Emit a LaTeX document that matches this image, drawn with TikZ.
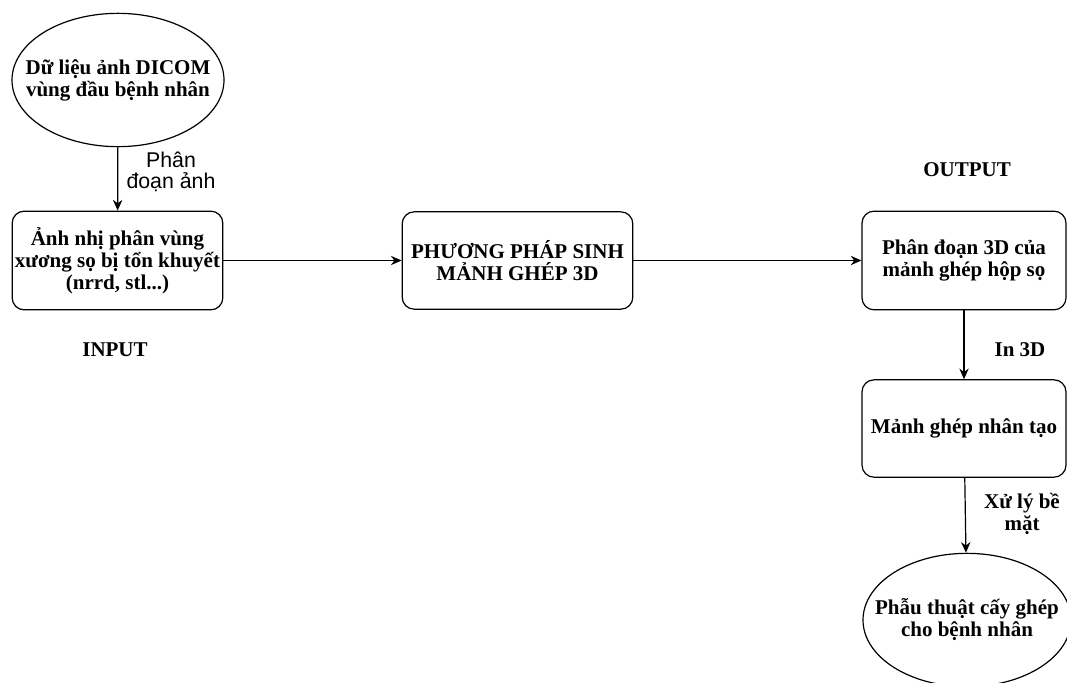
\documentclass[tikz,border=0pt]{standalone}
\usepackage{fontspec}
\setmainfont{Liberation Serif}
\newfontfamily\labelsans{Liberation Sans}
\usetikzlibrary{shapes.geometric,arrows.meta}

\begin{document}
\begin{tikzpicture}[x=0.75pt,y=-0.75pt,>={Stealth[length=8pt,width=7pt]},line width=0.9pt,
  font=\fontsize{15.75}{16.5}\selectfont\bfseries,
  oval/.style={draw,ellipse,align=center,inner sep=-40pt,minimum width=159pt,minimum height=100pt},
  stepbox/.style={draw,rounded corners=9pt,align=center,inner sep=0pt,minimum height=74pt}]
\useasboundingbox (0,0) rectangle (1067,682);

\node[oval] (dicom) at (118,80) {Dữ liệu ảnh DICOM\\vùng đầu bệnh nhân};
\node[stepbox,minimum width=158pt] (input) at (117.5,260.5) {Ảnh nhị phân vùng\\xương sọ bị tổn khuyết\\(nrrd, stl...)};
\node (inputlbl) at (115,350) {INPUT};

\node[stepbox,minimum width=173pt,minimum height=73pt] (method) at (517.5,260.5) {PHƯƠNG PHÁP SINH\\MẢNH GHÉP 3D};

\node[stepbox,minimum width=153pt] (seg3d) at (964,260.5) {Phân đoạn 3D của\\mảnh ghép hộp sọ};
\node (outputlbl) at (967,170) {OUTPUT};
\node[stepbox,minimum width=153pt,minimum height=73pt] (implant) at (964,428.5) {Mảnh ghép nhân tạo};
\node[oval,minimum width=156pt] (surgery) at (967,620) {Phẫu thuật cấy ghép\\cho bệnh nhân};

\draw[->] (dicom) -- (input);
\node[font=\fontsize{16}{16}\selectfont\labelsans,align=center] (seglbl) at (171,172) {Phân\\đoạn ảnh};

\draw[->] (input) -- (method);
\draw[->] (method) -- (seg3d);

\draw[->] (seg3d) -- (implant);
\node (printlbl) at (1020,350) {In 3D};

\draw[->] (implant) -- (surgery);
\node[align=center] (surflbl) at (1022,514) {Xử lý bề\\mặt};
\end{tikzpicture}
\end{document}
